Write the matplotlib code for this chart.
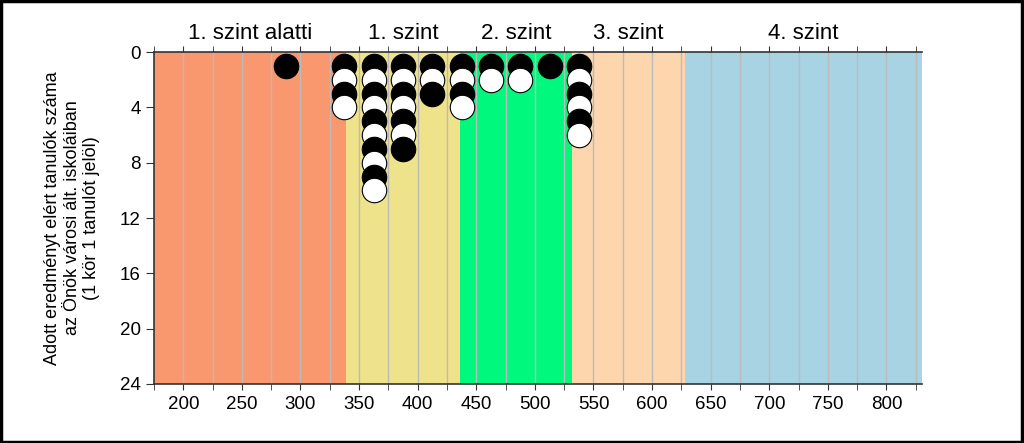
import matplotlib
matplotlib.use("Agg")
import matplotlib.pyplot as plt
from matplotlib.patches import Rectangle
import numpy as np

# ---- data ----
band_edges = [175, 339, 436, 532, 628, 830]
band_labels = ["1. szint alatti", "1. szint", "2. szint", "3. szint", "4. szint"]
band_colors = ["#F9976F", "#EEE28A", "#00F97C", "#FDD6AE", "#A8D3E3"]
score_bins = [287.5, 337.5, 362.5, 387.5, 412.5, 437.5, 462.5, 487.5, 512.5, 537.5]
student_counts = [1, 4, 10, 7, 3, 4, 2, 2, 1, 6]
x_ticks = [200, 250, 300, 350, 400, 450, 500, 550, 600, 650, 700, 750, 800]
y_ticks = [0, 4, 8, 12, 16, 20, 24]
y_label = "Adott eredményt elért tanulók száma\naz Önök városi ált. iskoláiban\n(1 kör 1 tanulót jelöl)"

plt.rcParams['font.family'] = ['Liberation Sans', 'DejaVu Sans']

fig = plt.figure(figsize=(10.24, 4.43), dpi=100)
ax = fig.add_axes([0.1504, 0.1332, 0.7496, 0.7494])

for i in range(len(band_labels)):
    ax.axvspan(band_edges[i], band_edges[i + 1], color=band_colors[i], zorder=0, lw=0)
    ax.annotate(band_labels[i], xy=((band_edges[i] + band_edges[i + 1]) / 2, 1.0),
                xycoords=ax.get_xaxis_transform(), xytext=(0, 6), textcoords='offset points',
                ha='center', va='bottom', fontsize=16)

for gx in np.arange(200, 830, 25):
    ax.axvline(gx, color='#BBBBBB', lw=1.0, zorder=1)

for x, n in zip(score_bins, student_counts):
    for k in range(1, n + 1):
        fc = 'black' if k % 2 == 1 else 'white'
        ax.scatter([x], [k], s=310, facecolor=fc, edgecolor='black', linewidth=0.8, zorder=3 + k)

ax.set_xlim(band_edges[0], band_edges[-1])
ax.set_ylim(24, 0)
ax.set_xticks(x_ticks)
ax.set_xticks(np.arange(175, 831, 25), minor=True)
ax.set_yticks(y_ticks)
ax.tick_params(axis='x', which='both', top=True, bottom=True, direction='out', length=4,
               labelsize=13.5, color='#333333', pad=5)
ax.tick_params(axis='x', which='major', labeltop=False)
ax.tick_params(axis='y', direction='out', length=6, labelsize=13.5, color='#333333')
for s in ['left', 'top', 'bottom']:
    ax.spines[s].set_color('#333333')
    ax.spines[s].set_linewidth(1.2)
ax.spines['right'].set_visible(False)
ax.set_ylabel(y_label, fontsize=13, linespacing=1.2, labelpad=14)

fig.patches.append(Rectangle((0.001, 0.002), 0.997, 0.995, transform=fig.transFigure,
                             fill=False, edgecolor='black', lw=2.5))

fig.savefig("out.png", dpi=100)
